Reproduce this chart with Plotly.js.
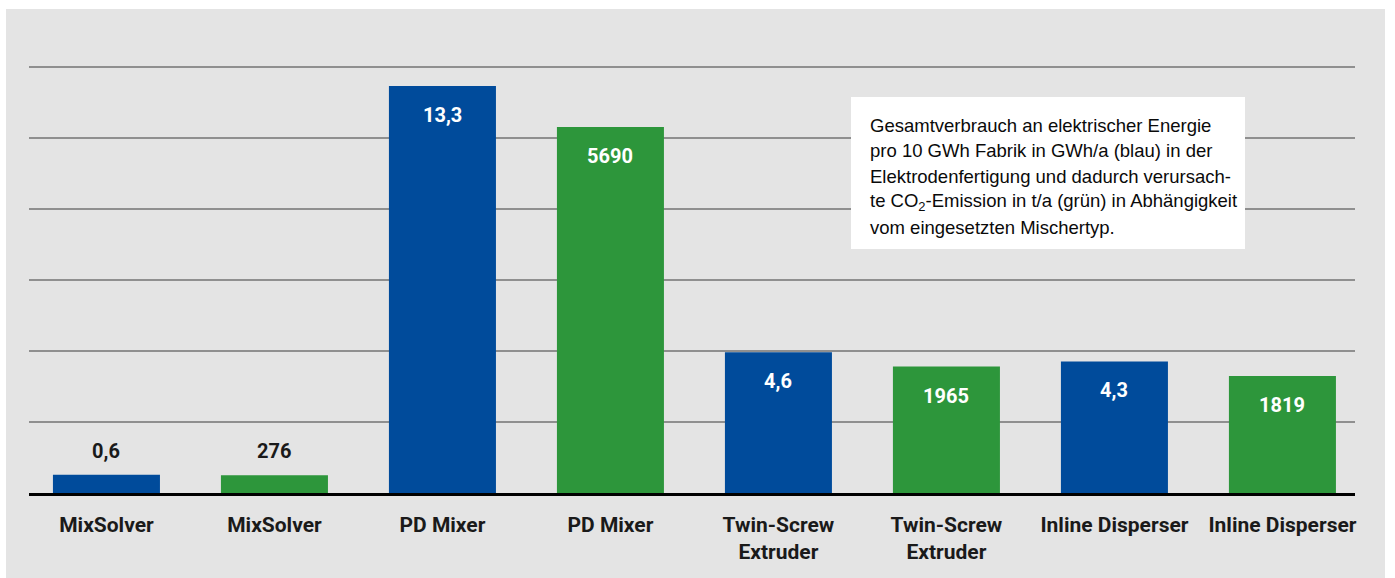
<!DOCTYPE html>
<html>
<head>
<meta charset="utf-8">
<script src="https://cdn.plot.ly/plotly-3.0.1.min.js"></script>
<style>html,body{margin:0;padding:0;background:#fff;}#chart{width:1395px;height:578px;}</style>
</head>
<body>
<div id="chart"></div>
<script>
// ---- data ----
const categories = ['MixSolver', 'MixSolver', 'PD Mixer', 'PD Mixer',
  'Twin-Screw<br>Extruder', 'Twin-Screw<br>Extruder', 'Inline Disperser', 'Inline Disperser'];
const energyGWh = [0.6, 13.3, 4.6, 4.3];       // blue, GWh/a
const co2Tons = [276, 5690, 1965, 1819];        // green, t/a
const noteLines = [
  'Gesamtverbrauch an elektrischer Energie',
  'pro 10 GWh Fabrik in GWh/a (blau) in der',
  'Elektrodenfertigung und dadurch verursach-',
  'te CO<sub>2</sub>-Emission in t/a (grün) in Abhängigkeit',
  'vom eingesetzten Mischertyp.'
];

// ---- layout geometry ----
const W = 1395, H = 578;
const mL = 29, mR = 40, mT = 60, mB = 85;
const plotW = W - mL - mR, plotH = H - mT - mB;
const blueRange = 14.149;   // y axis max (blue scale)
const greenRange = 6731;    // y2 axis max (green scale)
const gridStep = blueRange * 71 / plotH;

const xBlue = energyGWh.map((_, i) => 2 * i);
const xGreen = co2Tons.map((_, i) => 2 * i + 1);
const fmt = v => String(v).replace('.', ',');

const BLUE = '#004b9b', GREEN = '#2d963b';
const LABEL_FONT = 'Roboto, "Open Sans", sans-serif';

const traces = [
  {type: 'bar', x: xBlue, y: energyGWh, yaxis: 'y', marker: {color: BLUE}, width: 0.637,
   hoverinfo: 'skip', name: 'GWh/a'},
  {type: 'bar', x: xGreen, y: co2Tons, yaxis: 'y2', marker: {color: GREEN}, width: 0.637,
   hoverinfo: 'skip', name: 't/a'}
];

const annotations = [];
function addValueLabels(xs, ys, yref, range) {
  ys.forEach((v, i) => {
    const inside = v / range > 0.1;
    annotations.push({
      x: xs[i], y: v, xref: 'x', yref: yref, text: fmt(v), showarrow: false,
      yanchor: 'middle', xanchor: 'center', yshift: inside ? -29 : 24,
      font: {family: LABEL_FONT, size: 20, weight: 'bold', color: inside ? '#ffffff' : '#1a1a1a'}
    });
  });
}
addValueLabels(xBlue, energyGWh, 'y', blueRange);
addValueLabels(xGreen, co2Tons, 'y2', greenRange);

const px2x = px => (px - mL) / plotW;
const px2y = py => (H - mB - py) / plotH;
noteLines.forEach((t, i) => {
  annotations.push({
    xref: 'paper', yref: 'paper', x: px2x(868), y: px2y(125 + 25.5 * i),
    xanchor: 'left', yanchor: 'middle', align: 'left', showarrow: false, text: t,
    font: {family: '"Liberation Sans", Arial, sans-serif', size: 18.5, color: '#0a0a0a'}
  });
});

const layout = {
  width: W, height: H,
  margin: {l: mL, r: mR, t: mT, b: mB, pad: 0},
  paper_bgcolor: '#ffffff', plot_bgcolor: 'rgba(0,0,0,0)',
  showlegend: false, barmode: 'overlay',
  xaxis: {
    range: [-0.461, 7.432], tickmode: 'array', tickvals: categories.map((_, i) => i), ticktext: categories,
    showgrid: false, zeroline: false, showline: true, linecolor: '#000000', linewidth: 2.5,
    ticks: 'outside', ticklen: 11, tickcolor: 'rgba(0,0,0,0)',
    tickfont: {family: LABEL_FONT, size: 21, weight: 'bold', color: '#1a1a1a'}, fixedrange: true
  },
  yaxis: {
    range: [0, blueRange], tickmode: 'array', tickvals: [1, 2, 3, 4, 5, 6].map(k => k * gridStep),
    showticklabels: false, showgrid: true, gridcolor: '#8f8f8f', gridwidth: 2,
    zeroline: false, showline: false, ticks: '', fixedrange: true
  },
  yaxis2: {
    range: [0, greenRange], overlaying: 'y', side: 'right', showgrid: false,
    showticklabels: false, zeroline: false, showline: false, ticks: '', fixedrange: true
  },
  shapes: [
    {type: 'rect', xref: 'paper', yref: 'paper', layer: 'below',
     x0: px2x(6), x1: px2x(1385), y0: px2y(578), y1: px2y(9),
     fillcolor: '#e4e4e4', line: {width: 0}},
    {type: 'rect', xref: 'paper', yref: 'paper', layer: 'above',
     x0: px2x(851), x1: px2x(1245), y0: px2y(249), y1: px2y(97),
     fillcolor: '#ffffff', line: {width: 0}}
  ],
  annotations: annotations
};

Plotly.newPlot('chart', traces, layout, {displayModeBar: false, staticPlot: true});
</script>
</body>
</html>
